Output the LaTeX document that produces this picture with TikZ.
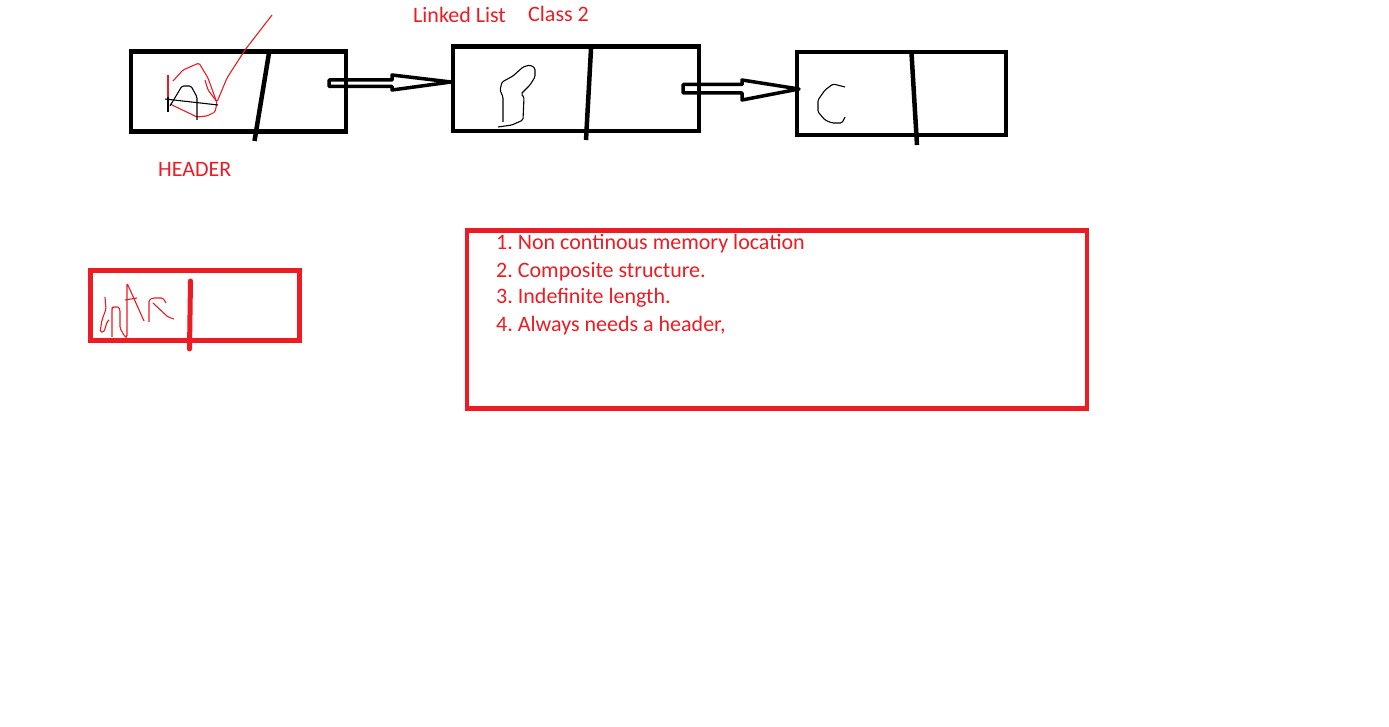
\documentclass[tikz,border=0pt]{standalone}
\usepackage{fontspec}
\setmainfont{Carlito}
\usetikzlibrary{positioning}
\definecolor{paintred}{RGB}{237,28,36}
\frenchspacing
\tikzset{
  lst_n/.style = {rectangle, draw=black, line width=4.5pt, inner sep=0pt},% box of the list, black
  lst_r/.style = {rectangle, draw=paintred, line width=4.5pt, inner sep=0pt},% box, red
  lbl_r/.style = {paintred, inner sep=0pt, anchor=base west,
    font=\fontsize{22}{26.8}\selectfont},% red label
  divider/.style = {line width=4.5pt},
  blockarrow/.style = {draw=black, line width=3.5pt, line join=round},
  scribble/.style = {line width=1.1pt, line join=round, rounded corners=1.5pt}
}
\begin{document}
\begin{tikzpicture}[x=1pt,y=-1pt]
        \fill[white] (0,0) rectangle (1389,727);
        \useasboundingbox (0,0) rectangle (1389,727);

        % list
        \node [lst_n, minimum width=215pt, minimum height=80pt](A) at (238.5,91.5){};
        \node [lst_n, minimum width=246pt, minimum height=84.5pt](B) at (576,88.75){};
        \node [lst_n, minimum width=209pt, minimum height=83pt](C) at (901.5,93.5){};

        \draw[divider] (269,53) -- (254.5,141);
        \draw[divider] (591,49) -- (586,140);
        \draw[divider] (911.5,53) -- (917,145);

        \coordinate (tailA) at (329,83);
        \coordinate (tipB) at (451,82);
        \coordinate (tailB) at (683,88.75);
        \coordinate (tipC) at (799,89);
        \draw[blockarrow] (tailA) ++(0,-3) -- ++(63,0) -- ++(0,-5) -- (tipB)
          -- ++(-59,8) -- ++(0,-3.5) -- ++(-63,0) -- cycle;
        \draw[blockarrow] (tailB) ++(0,-4.25) -- ++(59,0) -- ++(0,-4.5) -- (tipC)
          -- ++(-57,11) -- ++(0,-7) -- ++(-59,0) -- cycle;

        % letters in the boxes
        \draw[scribble, paintred] (173,81) -- (183,70) -- (199,63) -- (208,78) -- (217,103)
          -- (215,112) -- (207,116) -- (197,117) -- (170,104);
        \draw[scribble, paintred] (205,80) -- (208,90) -- (217,102) -- (227,78) -- (245,50) -- (272,15);
        \draw[scribble, paintred] (168,75) -- (168,100);
        \draw[scribble] (168,97) -- (168,112);
        \draw[scribble] (165,99) -- (218,105);
        \draw[scribble] (170,106) -- (182,86) -- (191,86) -- (197,97) -- (197,120);
        \draw[scribble] (498,127) -- (512,125) -- (523,120) -- (524,97) -- (521,94) -- (530,85)
          -- (535,77) -- (535,68) -- (530,65) -- (523,67) -- (513,76) -- (502,82) -- (500,90)
          -- (503,97) -- (503,122);
        \draw[scribble] (845,87) -- (833,84) -- (825,90) -- (818,100) -- (818,112) -- (825,120)
          -- (832,123) -- (842,123) -- (845,117);

        \node [lbl_r](header) at (158,177){HEADER};
        \node [lbl_r](title) at (413,23){Linked List};
        \node [lbl_r](class) at (528,22){Class 2};

        % red node
        \node [lst_r, minimum width=209pt, minimum height=70pt](R) at (195,305.5){};
        \draw[divider, paintred, line width=5pt, line cap=round] (190.5,281) -- (189.5,349);
        \draw[scribble, paintred] (105,297) -- (106,309) -- (102,320) -- (100,332) -- (104,332)
          -- (107,322) -- (109,320);
        \draw[scribble, paintred] (112,337) -- (112,308) -- (113,307) -- (119,307) -- (120,310)
          -- (120,328) -- (125,337) -- (127,337) -- (127,283) -- (144,321);
        \draw[scribble, paintred] (125,300) -- (137,298);
        \draw[scribble, paintred] (149,322) -- (149,300) -- (153,298) -- (163,298) -- (166,303);
        \draw[scribble, paintred] (153,303) -- (168,317) -- (174,319);

        % notes
        \node [lst_r, minimum width=620pt, minimum height=178pt](notes) at (777,319.5){};
        \node [lbl_r](item1) at (496,250){1. Non continous memory location};
        \node [lbl_r](item2) at (496,277){2. Composite structure.};
        \node [lbl_r](item3) at (496,304){3. Indefinite length.};
        \node [lbl_r](item4) at (496,331){4. Always needs a header,};

        \end{tikzpicture}
\end{document}
